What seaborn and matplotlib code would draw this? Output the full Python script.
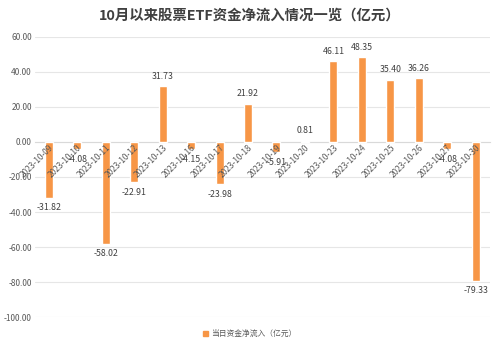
import matplotlib
matplotlib.use("Agg")
import matplotlib.pyplot as plt
import matplotlib.transforms as mtransforms
import seaborn as sns
import pandas as pd
from matplotlib.patches import Patch

dates = ["2023-10-09", "2023-10-10", "2023-10-11", "2023-10-12", "2023-10-13",
         "2023-10-16", "2023-10-17", "2023-10-18", "2023-10-19", "2023-10-20",
         "2023-10-23", "2023-10-24", "2023-10-25", "2023-10-26", "2023-10-27",
         "2023-10-30"]
values = [-31.82, -4.08, -58.02, -22.91, 31.73, -4.15, -23.98, 21.92, -5.91, 0.81,
          46.11, 48.35, 35.40, 36.26, -4.08, -79.33]
title = "10月以来股票ETF资金净流入情况一览（亿元）"
series_name = "当日资金净流入（亿元）"
yticks = [60, 40, 20, 0, -20, -40, -60, -80, -100]

sns.set_theme(style="white")
plt.rcParams['font.family'] = ['Noto Sans CJK SC', 'DejaVu Sans']
plt.rcParams['axes.unicode_minus'] = False

color = "#F79646"
df = pd.DataFrame({"date": dates, "value": values})

fig = plt.figure(figsize=(5.0, 3.45), dpi=100)
ax = fig.add_axes([0.069, 0.081, 0.911, 0.812])

sns.barplot(data=df, x="date", y="value", color=color, width=0.28,
            saturation=1, ax=ax)

ax.set_ylim(-100, 60)
ax.set_yticks(yticks)
ax.set_yticklabels([f"{v:.2f}" for v in yticks], fontsize=6, color="#595959")
ax.yaxis.grid(True, color="#E6E6E6", linewidth=0.8)
ax.set_axisbelow(True)
ax.xaxis.set_zorder(3)
ax.set_xlabel("")
ax.set_ylabel("")
for s in ["top", "right", "left"]:
    ax.spines[s].set_visible(False)
ax.spines["bottom"].set_position(("data", 0))
ax.spines["bottom"].set_color("#D9D9D9")
ax.spines["bottom"].set_linewidth(0.8)
ax.spines["bottom"].set_zorder(0.6)
ax.tick_params(axis="both", length=0, pad=2)
ax.set_xticks(range(len(dates)))
ax.set_xticklabels(dates, rotation=45, ha="right", va="top",
                   rotation_mode="anchor", fontsize=6, color="#595959")
offset = mtransforms.ScaledTranslation(5 / 100, 0, fig.dpi_scale_trans)
for lbl in ax.get_xticklabels():
    lbl.set_transform(lbl.get_transform() + offset)
ax.tick_params(axis="x", pad=1)

for c in ax.containers:
    ax.bar_label(c, fmt="%.2f", padding=4, fontsize=6.3, color="#404040")

fig.text(0.5, 0.955, title, ha="center", va="center", fontsize=10.4,
         fontweight="bold", color="#404040")

handles = [Patch(facecolor=color, edgecolor=color, label=series_name)]
fig.legend(handles=handles, loc="center", bbox_to_anchor=(0.5, 0.032),
           frameon=False, fontsize=5.6, handlelength=0.6, handleheight=0.6,
           handletextpad=0.4, labelcolor="#595959")

fig.savefig("out.png", dpi=100)
